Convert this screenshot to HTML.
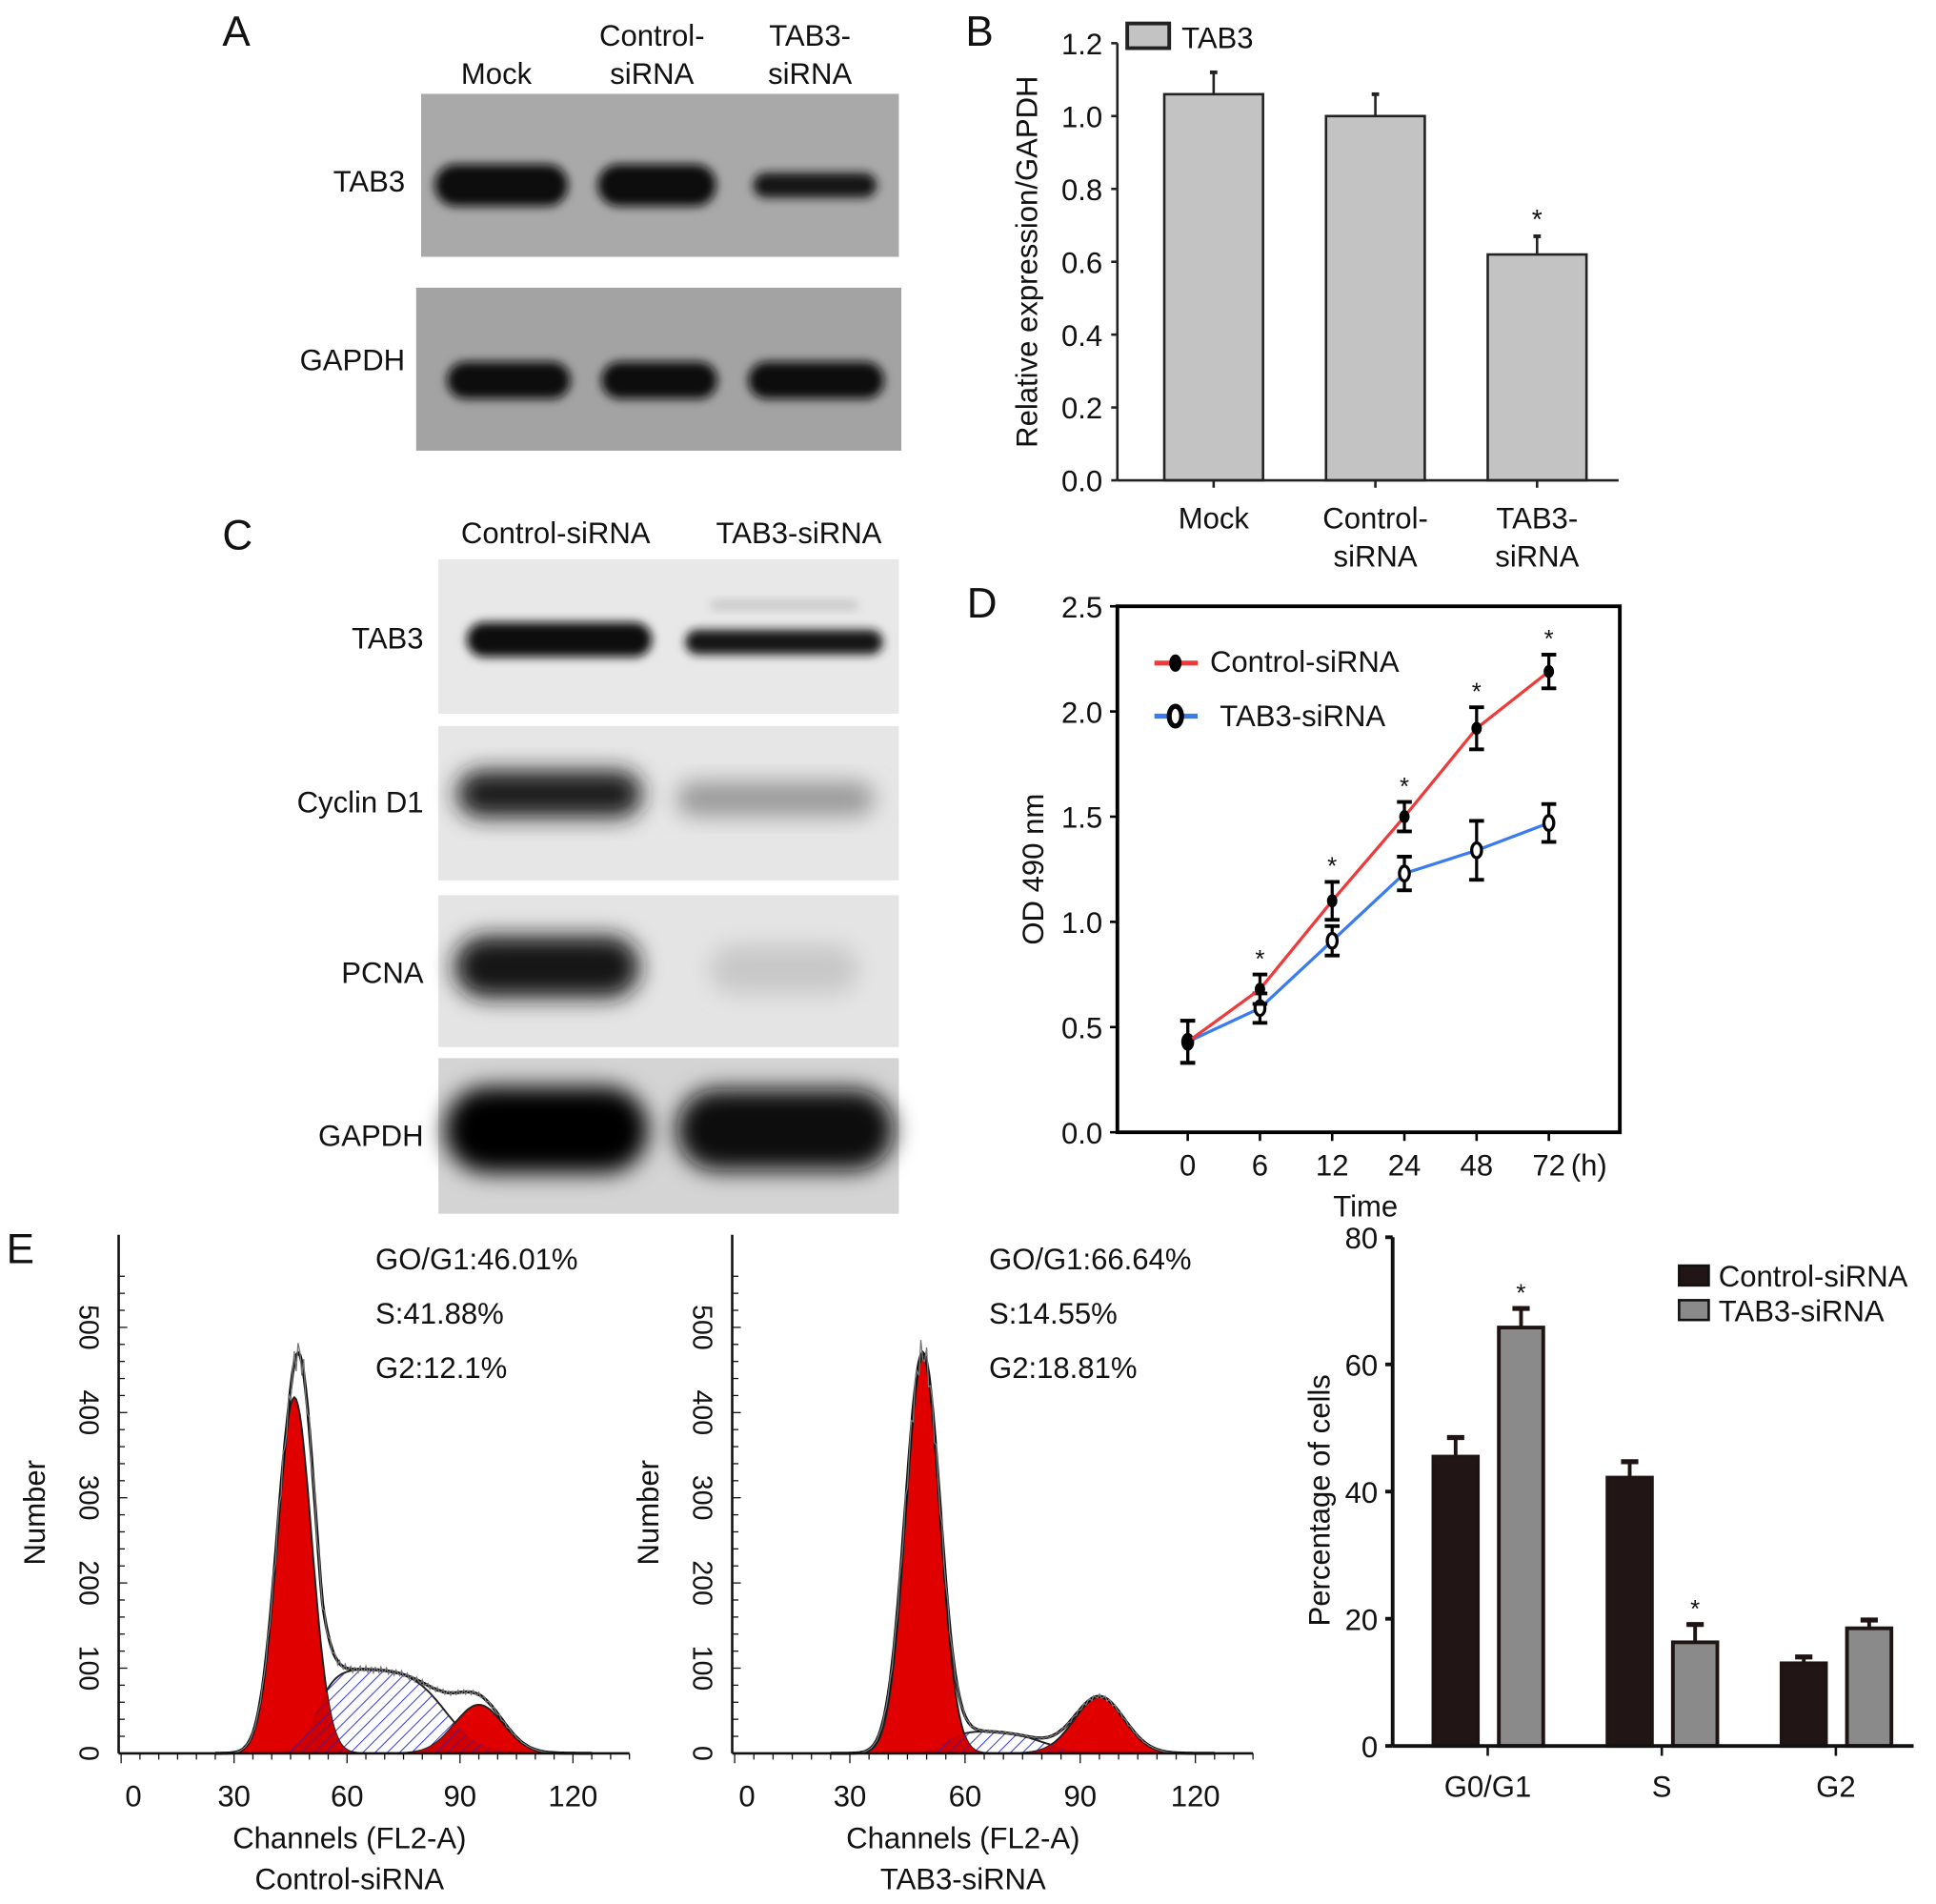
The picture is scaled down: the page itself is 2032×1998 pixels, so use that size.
<!DOCTYPE html>
<html><head><meta charset="utf-8"><style>
html,body{margin:0;padding:0;background:#fff;}
svg{display:block;}
text{font-family:"Liberation Sans",Arial,sans-serif;fill:#111;}
</style></head><body>
<svg id="fig" width="2032" height="1998" viewBox="0 0 1568 1542" xmlns="http://www.w3.org/2000/svg">
<defs>
<filter id="blur3" x="-20%" y="-50%" width="140%" height="200%"><feGaussianBlur stdDeviation="4"/></filter>
<filter id="blur8" x="-20%" y="-50%" width="140%" height="200%"><feGaussianBlur stdDeviation="9"/></filter>
<pattern id="hatch" patternUnits="userSpaceOnUse" width="7" height="7" patternTransform="rotate(45)"><rect width="7" height="7" fill="#fff"/><line x1="0" y1="0" x2="0" y2="7" stroke="#3a3adf" stroke-width="1.6"/></pattern>
<pattern id="hatchr" patternUnits="userSpaceOnUse" width="7" height="7" patternTransform="rotate(45)"><rect width="7" height="7" fill="#d00000"/><line x1="0" y1="0" x2="0" y2="7" stroke="#4a1a9a" stroke-width="1.3"/></pattern>
</defs>
<g id="root"></g>
</svg>
<script>
// ---------- data ----------
const bCats=["Mock","Control-siRNA","TAB3-siRNA"];
const bVals=[1.06,1.0,0.62];
const bErr=[0.06,0.06,0.05];
const bTicks=[0,0.2,0.4,0.6,0.8,1.0,1.2];

const dTimes=["0","6","12","24","48","72"];
const dCtrl=[0.43,0.68,1.10,1.50,1.92,2.19];
const dCtrlErr=[0.1,0.07,0.09,0.07,0.1,0.08];
const dTab=[0.43,0.59,0.91,1.23,1.34,1.47];
const dTabErr=[0.1,0.07,0.07,0.08,0.14,0.09];
const dTicks=[0,0.5,1.0,1.5,2.0,2.5];

const eCats=["G0/G1","S","G2"];
const eCtrl=[45.5,42.2,13];
const eCtrlErr=[3,2.5,1];
const eTab=[65.8,16.3,18.5];
const eTabErr=[3,2.8,1.3];
const eTicks=[0,20,40,60,80];

// histogram model params: G=[center, height, sd]; S=[start, height, end]
const h1G1=[46,418,4.6], h1S=[47,100,96], h1G2=[95,57,6.5], h1Env=[47,470,4.6];
const h2G1=[49,465,4.4], h2S=[50,27,90], h2G2=[95,66,6.5], h2Env=[49,470,4.6];
const histTicksX=[0,30,60,90,120];
const histTicksY=[0,100,200,300,400,500];

const NS="http://www.w3.org/2000/svg";
const root=document.getElementById('root');
function el(tag,attrs,parent,txt){const e=document.createElementNS(NS,tag);for(const k in attrs)e.setAttribute(k,attrs[k]);if(txt!==undefined)e.textContent=txt;(parent||root).appendChild(e);return e;}
function T(x,y,s,size,anchor,name,parent,extra){const t=el('text',Object.assign({x:x,y:y,'font-size':size,'text-anchor':anchor||'middle'},extra||{}),parent,s);return t;}

// ---------- panel letters ----------
[["A",180,37],["B",782,37],["C",180,445],["D",783,500],["E",5,1023]].forEach(p=>{T(p[1],p[2],p[0],34,'start','panel-label-'+p[0].toLowerCase());});

// ---------- blots ----------
function blot(x,y,w,h,bg,bands,name){
  const g=el('g',{});
  el('rect',{x:x,y:y,width:w,height:h,fill:bg},g);
  bands.forEach(b=>{el('rect',{x:b[0],y:b[1]-b[3]/2,width:b[2],height:b[3],rx:b[3]/2,fill:b[4],filter:b[5]||'url(#blur3)'},g);});
  return g;
}
T(402,68,"Mock",24,'middle','lane-label-mock');
T(528,37,"Control-",24,'middle','lane-label-control');T(528,68,"siRNA",24,'middle','lane-label-control-2');
T(656,37,"TAB3-",24,'middle','lane-label-tab3');T(656,68,"siRNA",24,'middle','lane-label-tab3-2');
blot(341,76,387,132,"#a9a9a9",[[352,150,108,34,"#0c0c0c"],[484,150,96,34,"#101010"],[610,150,100,20,"#151515"]],'blot-a-tab3');
blot(337,233,393,132,"#a3a3a3",[[362,308,100,30,"#0a0a0a"],[487,308,94,30,"#0e0e0e"],[606,308,110,30,"#0a0a0a"]],'blot-a-gapdh');
T(328,155,"TAB3",24,'end','row-label-a-tab3');T(328,300,"GAPDH",24,'end','row-label-a-gapdh');

T(450,440,"Control-siRNA",24,'middle','lane-label-c-control');T(647,440,"TAB3-siRNA",24,'middle','lane-label-c-tab3');
blot(355,453,373,125,"#e8e8e8",[[378,518,150,28,"#080808"],[555,520,160,20,"#151515"],[575,490,120,8,"#c8c8c8"]],'blot-c-tab3');
blot(355,588,373,125,"#e6e6e6",[[370,643,150,38,"#1b1b1b",'url(#blur8)'],[548,647,160,28,"#9a9a9a",'url(#blur8)']],'blot-c-cyclind1');
blot(355,725,373,123,"#e4e4e4",[[368,783,150,50,"#121212",'url(#blur8)'],[575,785,120,40,"#c8c8c8",'url(#blur8)']],'blot-c-pcna');
blot(355,857,373,126,"#d4d4d4",[[360,915,165,70,"#050505",'url(#blur8)'],[548,915,176,66,"#080808",'url(#blur8)']],'blot-c-gapdh');
T(343,525,"TAB3",24,'end','row-label-c-tab3');T(343,658,"Cyclin D1",24,'end','row-label-c-cyclind1');
T(343,796,"PCNA",24,'end','row-label-c-pcna');T(343,928,"GAPDH",24,'end','row-label-c-gapdh');

// ---------- panel B ----------
(function(){
  const g=el('g',{});
  const x0=905,y0=389,yT=35,ymax=1.2;
  const Y=v=>y0-(v/ymax)*(y0-yT);
  const X=i=>983+i*131;
  bTicks.forEach(t=>{el('line',{x1:x0-5,y1:Y(t),x2:x0,y2:Y(t),stroke:'#222','stroke-width':2},g);T(x0-12,Y(t)+9,t.toFixed(1),24,'end','b-ytick',g);});
  bVals.forEach((v,i)=>{
    const b=el('rect',{x:X(i)-40,y:Y(v),width:80,height:y0-Y(v),fill:'#c3c3c3',stroke:'#222','stroke-width':2},g);
    
    el('line',{x1:X(i),y1:Y(v),x2:X(i),y2:Y(v+bErr[i]),stroke:'#222','stroke-width':2},g);
    el('line',{x1:X(i)-3,y1:Y(v+bErr[i]),x2:X(i)+3,y2:Y(v+bErr[i]),stroke:'#222','stroke-width':3},g);
    el('line',{x1:X(i),y1:y0,x2:X(i),y2:y0+6,stroke:'#222','stroke-width':2},g);
  });
  el('line',{x1:x0,y1:yT,x2:x0,y2:y0,stroke:'#222','stroke-width':2},g);
  el('line',{x1:x0,y1:y0,x2:1311,y2:y0,stroke:'#222','stroke-width':2},g);
  T(X(2),Y(bVals[2]+bErr[2])-6,"*",22,'middle','b-significance',g,{fill:'#555'});
  T(X(0),428,"Mock",24,'middle','b-xlabel',g);
  T(X(1),428,"Control-",24,'middle','b-xlabel',g);T(X(1),459,"siRNA",24,'middle','b-xlabel',g);
  T(X(2),428,"TAB3-",24,'middle','b-xlabel',g);T(X(2),459,"siRNA",24,'middle','b-xlabel',g);
  T(840,212,"Relative expression/GAPDH",24,'middle','b-ytitle',g,{transform:'rotate(-90 840 212)'});
  const lg=el('rect',{x:913,y:19,width:34,height:20,fill:'#c3c3c3',stroke:'#222','stroke-width':3},g);
  T(957,39,"TAB3",24,'start','b-legend-label',g);
})();

// ---------- panel D ----------
(function(){
  const g=el('g',{});
  const x0=905,x1=1312,y0=917,yT=491;
  const Y=v=>y0-(v/2.5)*(y0-yT);
  const X=i=>962+i*58.5;
  el('rect',{x:x0,y:yT,width:x1-x0,height:y0-yT,fill:'none',stroke:'#000','stroke-width':3},g);
  dTicks.forEach(t=>{el('line',{x1:x0-6,y1:Y(t),x2:x0,y2:Y(t),stroke:'#000','stroke-width':2},g);T(x0-12,Y(t)+9,t.toFixed(1),24,'end','d-ytick',g);});
  dTimes.forEach((t,i)=>{el('line',{x1:X(i),y1:y0,x2:X(i),y2:y0+7,stroke:'#000','stroke-width':2},g);T(X(i),952,t,24,'middle','d-xtick',g);});
  T(1287,952,"(h)",24,'middle','d-xunit',g);
  T(1106,985,"Time",24,'middle','d-xtitle',g);
  T(845,704,"OD 490 nm",24,'middle','d-ytitle',g,{transform:'rotate(-90 845 704)'});
  function series(vals,errs,color,open,name){
    const pts=vals.map((v,i)=>X(i)+','+Y(v)).join(' ');
    const l=el('polyline',{points:pts,fill:'none',stroke:color,'stroke-width':2.5},g);
    vals.forEach((v,i)=>{
      el('line',{x1:X(i),y1:Y(v-errs[i]),x2:X(i),y2:Y(v+errs[i]),stroke:'#000','stroke-width':2.5},g);
      [v-errs[i],v+errs[i]].forEach(e=>el('line',{x1:X(i)-6,y1:Y(e),x2:X(i)+6,y2:Y(e),stroke:'#000','stroke-width':3},g));
      const m=el('ellipse',{cx:X(i),cy:Y(v),rx:open?4:3,ry:open?6:4,fill:open?'#fff':'#000',stroke:'#000','stroke-width':2.5},g);
    });
  }
  series(dTab,dTabErr,'#3a7cf0',true,'tab3-siRNA');
  series(dCtrl,dCtrlErr,'#f03a3a',false,'control-siRNA');
  dCtrl.forEach((v,i)=>{if(i>0)T(X(i),Y(v+dCtrlErr[i])-6,"*",20,'middle','d-significance',g);});
  el('line',{x1:935,y1:537,x2:970,y2:537,stroke:'#f03a3a','stroke-width':4},g);el('ellipse',{cx:952,cy:537,rx:5,ry:7,fill:'#000'},g);
  T(980,544,"Control-siRNA",24,'start','d-legend-control',g);
  el('line',{x1:935,y1:580,x2:970,y2:580,stroke:'#3a7cf0','stroke-width':4},g);el('ellipse',{cx:952,cy:580,rx:5,ry:8,fill:'#fff',stroke:'#000','stroke-width':4},g);
  T(988,588,"TAB3-siRNA",24,'start','d-legend-tab3',g);
})();

// ---------- histograms ----------
function gauss(p,c){return p[1]*Math.exp(-0.5*((c-p[0])/p[2])**2);}
function sShape(p,c){
  const a=1/(1+Math.exp(-(c-(p[0]+5))/2.5)), b=1/(1+Math.exp((c-(p[2]-10))/4.5));
  return p[1]*a*b;}
function hist(ox,sx,G1,S,G2,Env,labels,caption,name){
  const g=el('g',{});
  const y0=1420,yT=1075;
  const Y=v=>y0-v/500*(y0-yT), X=c=>ox+c*sx;
  const cs=[];for(let c=25;c<=125;c+=0.5)cs.push(c);
  const path=f=>'M'+X(25)+','+y0+' '+cs.map(c=>'L'+X(c).toFixed(1)+','+Y(f(c)).toFixed(1)).join(' ')+' L'+X(125)+','+y0+'Z';
  const sf=c=>sShape(S,c);
  el('path',{d:path(sf),fill:'url(#hatch)',stroke:'#222','stroke-width':1.5},g);
  el('path',{d:path(c=>gauss(G1,c)),fill:'#e00000',stroke:'#222','stroke-width':1.5},g);
  el('path',{d:path(c=>gauss(G2,c)),fill:'#e00000',stroke:'#222','stroke-width':1.5},g);
  el('path',{d:path(c=>Math.min(sf(c),gauss(G1,c))),fill:'url(#hatchr)',stroke:'none'},g);
  el('path',{d:path(c=>Math.min(sf(c),gauss(G2,c))),fill:'url(#hatchr)',stroke:'none'},g);
  const env=c=>Math.max(gauss(Env,c),gauss(G1,c)+sf(c)+gauss(G2,c));
  el('polyline',{points:cs.map(c=>X(c).toFixed(1)+','+Y(env(c)).toFixed(1)).join(' '),fill:'none',stroke:'#111','stroke-width':2.5},g);
  el('polyline',{points:cs.map((c,i)=>X(c).toFixed(1)+','+Y(env(c)*(1+0.04*Math.sin(i*2.3))).toFixed(1)).join(' '),fill:'none',stroke:'#777','stroke-width':1},g);
  el('line',{x1:ox-2,y1:y0,x2:ox+sx*135,y2:y0,stroke:'#111','stroke-width':2},g);
  el('line',{x1:ox-2,y1:1000,x2:ox-2,y2:y0,stroke:'#111','stroke-width':2},g);
  for(let v=0;v<=560;v+=20)el('line',{x1:ox-2,y1:Y(v),x2:ox+(v%100==0?5:3),y2:Y(v),stroke:'#111','stroke-width':1},g);
  for(let c=0;c<=135;c+=5)el('line',{x1:X(c),y1:y0,x2:X(c),y2:y0+(c%30==0?8:5),stroke:'#111','stroke-width':1},g);
  histTicksY.forEach(v=>T(ox-28,Y(v),String(v),22,'middle','hist-ytick',g,{transform:`rotate(90 ${ox-28} ${Y(v)})`,'dominant-baseline':'middle'}));
  histTicksX.forEach(c=>T(X(c)+ (c==0?10:0),1463,String(c),24,'middle','hist-xtick',g));
  T(ox-62,1225,"Number",24,'middle','hist-ytitle',g,{transform:`rotate(-90 ${ox-62} 1225)`});
  T(ox+185,1497,"Channels (FL2-A)",24,'middle','hist-xtitle',g);
  T(ox+185,1530,caption,24,'middle','hist-caption',g);
  labels.forEach((s,i)=>T(ox+206,1028+i*44,s,24,'start','hist-stat',g));
}
hist(98,3.05,h1G1,h1S,h1G2,h1Env,["GO/G1:46.01%","S:41.88%","G2:12.1%"],"Control-siRNA",'histogram-control');
hist(595,3.11,h2G1,h2S,h2G2,h2Env,["GO/G1:66.64%","S:14.55%","G2:18.81%"],"TAB3-siRNA",'histogram-tab3');

// ---------- panel E bars ----------
(function(){
  const g=el('g',{});
  const x0=1128,y0=1414,yT=1002;
  const Y=v=>y0-v/80*(y0-yT);
  const C=i=>1205+i*141;
  eTicks.forEach(t=>{el('line',{x1:x0-6,y1:Y(t),x2:x0,y2:Y(t),stroke:'#111','stroke-width':3},g);T(x0-12,Y(t)+9,String(t),24,'end','e-ytick',g);});
  function bar(x,v,e,fill,name){
    const r=el('rect',{x:x,y:Y(v),width:36,height:y0-Y(v),fill:fill,stroke:'#1e1414','stroke-width':3},g);
    el('line',{x1:x+18,y1:Y(v),x2:x+18,y2:Y(v+e),stroke:'#1e1414','stroke-width':3},g);
    el('line',{x1:x+11,y1:Y(v+e),x2:x+25,y2:Y(v+e),stroke:'#1e1414','stroke-width':4},g);
  }
  eCats.forEach((c,i)=>{
    bar(C(i)-44,eCtrl[i],eCtrlErr[i],'#221515','e-bar-control-'+c.toLowerCase());
    bar(C(i)+9,eTab[i],eTabErr[i],'#8a8a8a','e-bar-tab3-'+c.toLowerCase());
    el('line',{x1:C(i),y1:y0,x2:C(i),y2:y0+8,stroke:'#111','stroke-width':2},g);
    T(C(i),1455,c,24,'middle','e-xtick',g);
  });
  T(C(0)+27,Y(eTab[0]+eTabErr[0])-6,"*",20,'middle','e-significance',g);
  T(C(1)+27,Y(eTab[1]+eTabErr[1])-6,"*",20,'middle','e-significance',g);
  el('line',{x1:x0,y1:yT,x2:x0,y2:y0,stroke:'#111','stroke-width':3},g);
  el('line',{x1:x0,y1:y0,x2:1550,y2:y0,stroke:'#111','stroke-width':3},g);
  T(1077,1215,"Percentage of cells",24,'middle','e-ytitle',g,{transform:'rotate(-90 1077 1215)'});
  el('rect',{x:1360,y:1025,width:24,height:16,fill:'#221515',stroke:'#111','stroke-width':2},g);
  T(1392,1042,"Control-siRNA",24,'start','e-legend-control',g);
  el('rect',{x:1360,y:1053,width:24,height:16,fill:'#8a8a8a',stroke:'#111','stroke-width':2},g);
  T(1392,1070,"TAB3-siRNA",24,'start','e-legend-tab3',g);
})();
</script>
</body></html>
